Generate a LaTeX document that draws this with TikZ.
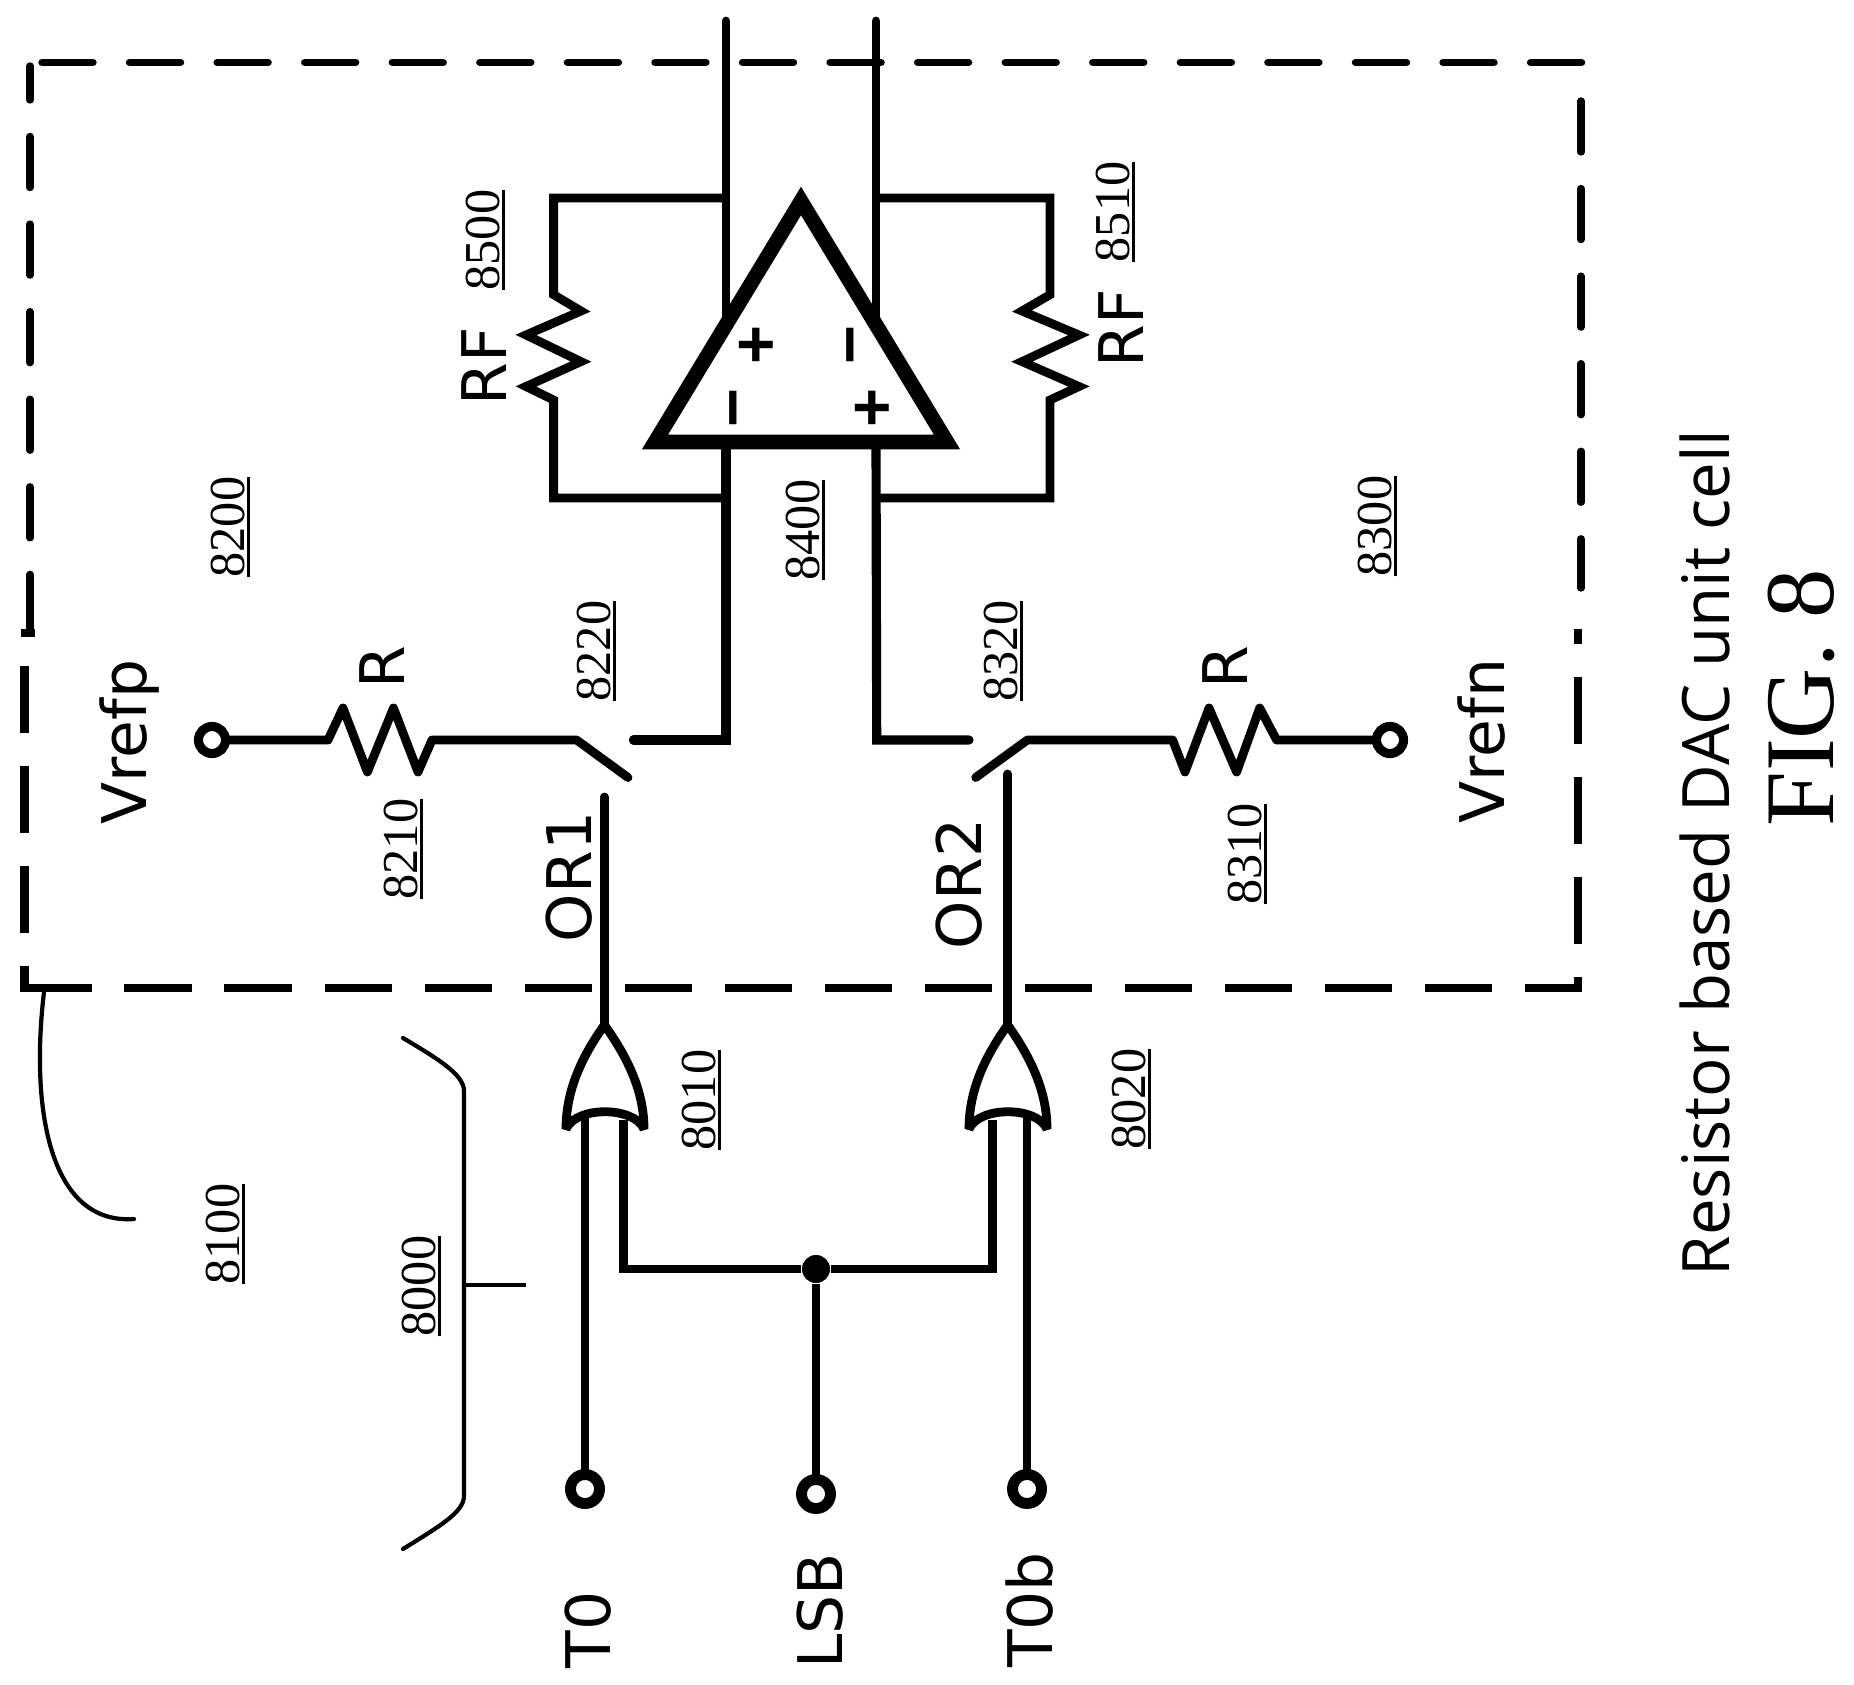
\documentclass[tikz,border=0pt]{standalone}
\usepackage{fontspec}
\usepackage{tikz}
\setmainfont{Liberation Serif}
\newfontfamily\labelfont{DejaVu Sans}
\newfontfamily\captionfont{Open Sans}
\newfontfamily\signfont{Liberation Sans}
\newcommand{\ulnum}[1]{\vtop{\hbox{#1}\kern0.75pt\hrule height 0.8pt}}

\begin{document}
\begin{tikzpicture}[x=0.01cm, y=-0.01cm]
    % Define styles
    \tikzstyle{wire} = [line width=2.5pt, line join=miter]
    \tikzstyle{heavy} = [line width=2.6pt, line join=miter]
    \tikzstyle{leader} = [line width=1.2pt, line cap=round]
    \tikzstyle{dashround} = [line width=2.1pt, line cap=round, dash pattern=on 14.5pt off 10.4pt]
    \tikzstyle{dashbutt} = [line width=2.4pt, dash pattern=on 19.1pt off 9.35pt]
    \tikzstyle{terminal} = [circle, draw, fill=white, line width=2.6pt, inner sep=0pt, outer sep=0pt, minimum size=0.27cm]
    \tikzstyle{inpin} = [terminal, line width=3.1pt, minimum size=0.29cm]
    \tikzstyle{refnum} = [anchor=base, rotate=90, inner sep=0pt, font=\fontsize{14.3}{16}\selectfont]
    \tikzstyle{pinlabel} = [anchor=base, rotate=90, inner sep=0pt, font=\labelfont\fontsize{17.5}{20}\selectfont]
    \tikzstyle{sign} = [rotate=90, inner sep=0pt, font=\signfont\bfseries\fontsize{19}{20}\selectfont]

    \useasboundingbox (0,0) rectangle (1854,1685);

    % Dashed box, upper and lower part
    \coordinate (boxtr) at (1583,62.4);
    \coordinate (boxbl) at (24.4,988);
    \draw[dashround] (42,62.4) -- (boxtr);
    \draw[dashround, dash phase=4.84pt] (30,66) -- (30,625);
    \draw[dashround] (1581,101) -- (1581,588);
    \draw[line width=2.1pt] (30,600) -- (30,637);
    \draw[line width=2.3pt] (21,633) -- (34.5,633);
    \draw[dashbutt] (24.4,666) -- (24.4,992);
    \draw[dashbutt] (boxbl) -- (1582,988);
    \draw[dashbutt, dash phase=14.8pt] (1578,992) -- (1578,628.5);

    % Terminals
    \node[terminal] (vrefp) at (212,740) {};
    \node[terminal] (vrefn) at (1390,740) {};
    \node[inpin] (t0) at (585,1489) {};
    \node[inpin] (lsb) at (816,1494) {};
    \node[inpin] (t0b) at (1027,1489) {};
    \node[circle, fill, inner sep=0pt, minimum size=0.28cm] (dot) at (816,1269) {};

    % Corners of the amplifier wires
    \coordinate (ampnl) at (726,442);
    \coordinate (ampnr) at (876,442);
    \coordinate (topl) at (726,21);
    \coordinate (topr) at (876,21);
    \coordinate (lefttop) at (553.6,198);
    \coordinate (leftbot) at (553.6,498);
    \coordinate (righttop) at (1050,198);
    \coordinate (rightbot) at (1050,498);
    \coordinate (cornerl) at (726,740);
    \coordinate (cornerr) at (876.7,740);

    % Switches
    \coordinate (sw1a) at (576.6,740);
    \coordinate (sw1b) at (633.4,740);
    \coordinate (sw2a) at (1027.4,740);
    \coordinate (sw2b) at (969,740);

    % Outputs and feedback resistors
    \draw[wire, line cap=round] (topl) -- (ampnl);
    \draw[wire, line cap=round] (topr) -- (ampnr);
    \draw[wire] (726,198) -- (lefttop) -- (553.6,294.7) -- ++(27.4,16.3) -- ++(-55,24) -- ++(55,26.6) -- ++(-55,24.9) -- ++(27.6,13.5) -- (leftbot) -- (726,498);
    \draw[wire] (876,198) -- (righttop) -- (1050,294.7) -- ++(-28,16.3) -- ++(57,24) -- ++(-57,26.6) -- ++(57,24.9) -- ++(-29,13.5) -- (rightbot) -- (876,498);

    % Wires from the amplifier to the switches
    \draw[heavy, line cap=round] (ampnl) -- (cornerl) -- (sw1b);
    \draw[heavy, line cap=round] (ampnr) -- (cornerr) -- (sw2b);

    % Input branches
    \draw[wire, line join=round, line cap=round] (vrefp) -- (328,740) -- ++(15,-32) -- ++(24.4,64) -- ++(26.1,-64) -- ++(24.5,64) -- ++(14,-32) -- (sw1a) -- (628,777.5);
    \draw[wire, line join=round, line cap=round] (vrefn) -- (1276.6,740) -- ++(-16.9,-32) -- ++(-23.1,64) -- ++(-27.6,-64) -- ++(-24,64) -- ++(-12.4,-32) -- (sw2a) -- (975.7,777.5);

    % OR gates
    \coordinate (or1out) at (604.4,1025);
    \coordinate (or2out) at (1007.7,1025);
    \draw[wire, line cap=round] (604.4,797) -- (or1out);
    \draw[wire, line cap=round] (1007.7,774) -- (or2out);
    \draw[wire] (585,1116) -- (t0);
    \draw[wire] (1027,1116) -- (t0b);
    \draw[wire] (623.6,1120) -- (623.6,1269) -- (dot) -- (992.4,1269) -- (992.4,1120);
    \draw[wire] (dot) -- (lsb);
    \draw[wire, line join=bevel] (or1out) .. controls (578,1062) and (566,1095) .. (566,1129) .. controls (576,1106) and (634,1106) .. (644,1129) .. controls (644,1095) and (631,1062) .. (or1out) -- cycle;
    \draw[wire, line join=bevel] (or2out) .. controls (981,1062) and (969,1095) .. (969,1129) .. controls (979,1106) and (1037,1106) .. (1047,1129) .. controls (1047,1095) and (1034,1062) .. (or2out) -- cycle;

    % Amplifier
    \draw[line width=4.2pt, miter limit=10, fill=white] (801,201) -- (947,442) -- (655,442) -- cycle;
    \node[sign] (ampp1) at (758.5,345) {+};
    \node[sign] (ampm1) at (860,345) {−};
    \node[sign] (ampm2) at (743,408) {−};
    \node[sign] (ampp2) at (875,408) {+};

    % Leaders
    \draw[leader] (44,992) .. controls (30,1110) and (50,1225) .. (134,1219);
    \draw[leader] (403,1038) .. controls (440,1060) and (464,1075) .. (464,1091) -- (464,1496) .. controls (464,1512) and (440,1526) .. (403,1549);
    \draw[leader, line cap=butt] (464,1285) -- (526,1285);

    % Pin labels
    \node[pinlabel] (lr1) at (404,667) {R};
    \node[pinlabel] (lr2) at (1247,667) {R};
    \node[pinlabel] (lvp) at (146,742) {Vrefp};
    \node[pinlabel] (lvn) at (1504,741) {Vrefn};
    \node[pinlabel] (lor1) at (591,877) {OR1};
    \node[pinlabel] (lor2) at (981,884) {OR2};
    \node[pinlabel] (lrf1) at (506,366) {RF};
    \node[pinlabel] (lrf2) at (1143,328) {RF};
    \node[pinlabel] (lt0) at (610,1630) {T0};
    \node[pinlabel] (llsb) at (842,1611) {LSB};
    \node[pinlabel] (lt0b) at (1052,1610) {T0b};

    % Reference numbers
    \node[refnum] (n8200) at (244,527) {\ulnum{8200}};
    \node[refnum] (n8210) at (417,849) {\ulnum{8210}};
    \node[refnum] (n8220) at (610,651) {\ulnum{8220}};
    \node[refnum] (n8400) at (819,530) {\ulnum{8400}};
    \node[refnum] (n8320) at (1017,651) {\ulnum{8320}};
    \node[refnum] (n8310) at (1261,854) {\ulnum{8310}};
    \node[refnum] (n8300) at (1391,526) {\ulnum{8300}};
    \node[refnum] (n8500) at (499,240) {\ulnum{8500}};
    \node[refnum] (n8510) at (1129,212) {\ulnum{8510}};
    \node[refnum] (n8100) at (239,1234) {\ulnum{8100}};
    \node[refnum] (n8000) at (435,1286) {\ulnum{8000}};
    \node[refnum] (n8010) at (715,1100) {\ulnum{8010}};
    \node[refnum] (n8020) at (1145,1099) {\ulnum{8020}};

    % Caption
    \node[anchor=base, rotate=90, inner sep=0pt, font=\captionfont\fontsize{18.6}{22}\selectfont] (caption) at (1729,853) {Resistor based DAC unit cell};
    \node[anchor=base, rotate=90, inner sep=0pt, font=\fontsize{28}{30}\selectfont] (figlabel) at (1833,698) {FIG. 8};
\end{tikzpicture}
\end{document}
